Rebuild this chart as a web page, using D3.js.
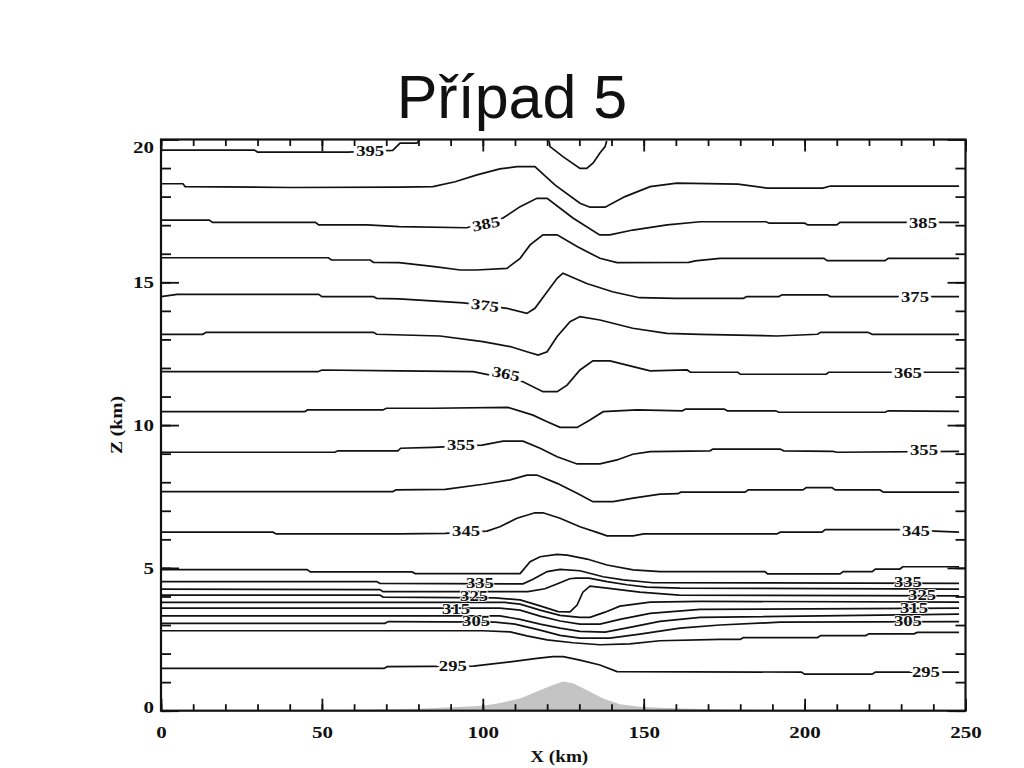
<!DOCTYPE html>
<html>
<head>
<meta charset="utf-8">
<script src="https://cdn.jsdelivr.net/npm/d3@7"></script>
<style>
  body { margin: 0; background: #fff; }
  svg { display: block; }
</style>
</head>
<body>
<div id="chart"></div>
<script>
// isentropes (K), each one a list of [x km, z km]; null = break
var c395 = [[0,19.63],[29,19.63],[30,19.56],[58,19.56],[72,19.62],[74.3,19.87],[79.5,19.87],[80.5,20.0], null,
  [120.6,19.95],[120.9,19.75],[124.9,19.40],[130.2,18.99],[132.3,18.99],[134.3,19.18],[136.4,19.53],[138,19.75],[138.5,19.95]];
var c390 = [[0,18.45],[6.8,18.45],[7.5,18.35],[40,18.32],[74.3,18.33],[84.5,18.35],[91.4,18.52],[98.2,18.76],[105.3,18.97],[110.6,19.05],[116.2,19.05],[122.4,18.41],[130.2,17.77],[133.3,17.63],[138,17.63],[144.2,18.0],[152,18.35],[160.3,18.47],[179.3,18.44],[188.3,18.30],[205.7,18.30],[208,18.37],[248,18.37]];
var c385 = [[0,17.18],[15,17.18],[16,17.10],[48,17.10],[49,17.01],[64,17.01],[74,16.95],[95,16.91],[106.3,17.25],[111.6,17.65],[116.8,17.94],[120,17.94],[128,17.25],[136.3,16.66],[139.5,16.66],[146.6,16.83],[157.3,17.01],[167.6,17.12],[188,17.12],[189,17.07],[200,17.07],[201,17.01],[210,17.01],[211,17.10],[248,17.10]];
var c380 = [[0,15.86],[52,15.86],[53,15.78],[65,15.78],[66,15.70],[74,15.69],[85,15.55],[93,15.43],[98,15.43],[107.5,15.49],[111.6,15.84],[114.7,16.31],[118.7,16.66],[123.1,16.66],[129.3,16.25],[136.4,15.84],[141.7,15.69],[164,15.70],[166,15.75],[173.7,15.84],[206,15.84],[207,15.76],[225,15.76],[226,15.84],[248,15.84]];
var c375 = [[0,14.50],[5,14.58],[49,14.58],[50,14.50],[66,14.50],[67,14.44],[74,14.42],[94,14.28],[107.5,14.09],[113.7,13.91],[116.2,14.09],[120,14.67],[123.1,15.14],[124.9,15.32],[132.3,14.96],[140.3,14.67],[148.7,14.46],[159.7,14.44],[181,14.44],[182,14.50],[192,14.50],[193,14.56],[207,14.56],[208,14.50],[248,14.50]];
var c370 = [[0,13.18],[13,13.18],[14,13.25],[66,13.25],[67,13.18],[86.7,13.12],[100,12.92],[108.5,12.75],[113.7,12.57],[117.2,12.45],[120,12.57],[123.1,13.10],[127.1,13.62],[130.2,13.80],[136.4,13.68],[146.6,13.39],[157.2,13.21],[167.5,13.18],[191.4,13.12],[204,13.18],[205,13.25],[219.7,13.25],[221,13.18],[248,13.18]];
var c365 = [[0,11.87],[48.8,11.87],[50,11.93],[74,11.90],[97,11.87],[112.5,11.52],[118.7,11.17],[123.1,11.17],[126.2,11.40],[130.2,11.93],[134.2,12.25],[139.5,12.25],[146.7,12.05],[152,11.90],[163.5,11.93],[164.5,11.85],[179.3,11.85],[180,11.78],[206.7,11.78],[207.5,11.85],[248,11.85]];
var c360 = [[0,10.47],[44.7,10.47],[45.5,10.53],[69,10.53],[70,10.59],[84.5,10.59],[107.8,10.62],[115.6,10.35],[120,10.12],[124,9.92],[129.3,9.92],[133.3,10.18],[137.4,10.47],[147.9,10.53],[162,10.50],[163,10.56],[175,10.56],[176,10.50],[191,10.50],[192,10.45],[225,10.45],[226,10.50],[248,10.48]];
var c355 = [[0,9.05],[54,9.05],[55,9.10],[73.6,9.10],[74.5,9.19],[84.5,9.22],[99.8,9.30],[106.3,9.44],[112.5,9.44],[117.8,9.19],[123.1,8.89],[129.3,8.64],[136.4,8.64],[141.7,8.78],[146.6,8.98],[152,9.07],[170.6,9.10],[171.5,9.16],[192.4,9.16],[193.5,9.10],[208.8,9.08],[210,9.05],[248,9.08]];
var c350 = [[0,7.67],[72,7.67],[73,7.73],[88.3,7.75],[100.1,7.93],[108.5,8.08],[113.7,8.25],[116.8,8.25],[123.1,7.96],[129.3,7.61],[134.2,7.32],[140.5,7.32],[146.7,7.44],[155.1,7.58],[160.7,7.60],[161.5,7.65],[181.5,7.65],[182.5,7.73],[199.5,7.73],[200.5,7.81],[208.5,7.81],[209.5,7.73],[223.4,7.73],[224.5,7.65],[248,7.65]];
var c345 = [[0,6.25],[34.8,6.25],[35.8,6.19],[74,6.19],[88.3,6.21],[101.3,6.29],[105.3,6.44],[110.6,6.74],[116.2,6.93],[118.7,6.93],[124,6.74],[130.2,6.44],[136.4,6.21],[138.6,6.12],[146.7,6.12],[150,6.19],[191.4,6.19],[192.4,6.25],[205.4,6.25],[206.4,6.34],[229,6.34],[248,6.25]];
var c340 = [[0,4.94],[45.4,4.94],[46.4,4.86],[78,4.86],[79,4.80],[111.6,4.80],[114.7,5.22],[117.8,5.39],[123.1,5.47],[126.2,5.45],[132.4,5.31],[138.6,5.10],[146.7,4.93],[155.1,4.87],[187.7,4.87],[188.5,4.79],[211,4.79],[212,4.87],[221,4.87],[222,4.96],[229.6,4.96],[230.5,5.04],[248,5.04]];
var c335 = [[0,4.52],[67,4.52],[68,4.46],[112.5,4.44],[115.6,4.60],[120,4.87],[124,4.95],[130.2,4.90],[137.4,4.69],[143.6,4.58],[152.9,4.48],[248,4.46]];
var c330 = [[0,4.26],[68,4.24],[69,4.17],[114,4.17],[119.3,4.27],[124,4.48],[127,4.62],[129,4.64],[133,4.64],[138.6,4.52],[144.8,4.41],[151,4.33],[161.3,4.29],[248,4.26]];
var c325 = [[0,4.05],[68,4.05],[69,3.98],[103.8,3.95],[111.6,3.88],[117.8,3.67],[123.4,3.47],[127.1,3.46],[129.3,3.70],[131.1,4.15],[133.3,4.36],[138.6,4.29],[148.8,4.15],[161,4.05],[248,4.02]];
var c320 = [[0,3.79],[106.9,3.79],[111.6,3.73],[117.8,3.52],[124,3.34],[130.2,3.27],[133.3,3.27],[138,3.45],[142.6,3.66],[152,3.80],[167.5,3.83],[248,3.80]];
var c315 = [[0,3.59],[105.3,3.59],[111.6,3.52],[117.8,3.31],[124,3.14],[130.2,3.03],[136.4,3.03],[142.6,3.20],[152,3.41],[167.5,3.55],[248,3.59]];
var c310 = [[0,3.32],[105.3,3.32],[111.6,3.20],[117.8,3.03],[124,2.89],[130.2,2.78],[138,2.75],[145.7,2.92],[155,3.13],[167.5,3.27],[248,3.38]];
var c305 = [[0,3.06],[69.6,3.06],[70.6,3.12],[103.8,3.10],[110,3.03],[117.8,2.82],[124,2.64],[130.2,2.54],[139.5,2.54],[148.8,2.68],[161.3,2.89],[173.7,3.00],[192.4,3.10],[248,3.12]];
var c300 = [[0,2.80],[100,2.80],[108.5,2.76],[113.7,2.62],[120,2.48],[128,2.38],[136.4,2.31],[145.7,2.34],[155,2.45],[173.7,2.50],[180,2.50],[181,2.56],[204,2.56],[205,2.63],[219,2.63],[220,2.69],[234,2.69],[235,2.74],[248,2.74]];
var c295 = [[0,1.48],[69.3,1.48],[70.3,1.54],[97,1.56],[108.5,1.71],[116.8,1.83],[121.8,1.89],[125,1.89],[130.2,1.77],[136.4,1.60],[141.7,1.37],[199,1.35],[200,1.28],[221,1.28],[222,1.35],[248,1.35]];

var levels = [295,300,305,310,315,320,325,330,335,340,345,350,355,360,365,370,375,380,385,390,395];
var isolines = [c295,c300,c305,c310,c315,c320,c325,c330,c335,c340,c345,c350,c355,c360,c365,c370,c375,c380,c385,c390,c395];

// terrain profile [x km, h km]
var terrain = [[50,0],[60,0.03],[80,0.07],[94,0.14],[100,0.17],[105,0.26],[111.6,0.43],[116.8,0.67],[121.8,0.90],[124.9,1.02],[128,0.96],[132.4,0.72],[137.4,0.43],[142.6,0.23],[148.8,0.14],[155.1,0.10],[170,0.05],[190,0.02],[200,0]];

// contour labels: value, x km, z km, tilt (deg)
var labelVals = [395,385,385,375,375,365,365,355,355,345,345,335,335,325,325,315,315,305,305,295,295];
var labelX    = [65,101,236.8,100.7,234.3,107.2,232.1,93.2,237.1,94.8,234.6,99.1,232.1,97.3,236.5,91.7,234,97.9,232.1,90.7,237.7];
var labelZ    = [19.6,17.05,17.1,14.2,14.49,11.8,11.85,9.3,9.13,6.29,6.29,4.47,4.51,4.01,4.05,3.56,3.59,3.14,3.14,1.57,1.35];
var labelTilt = [0,-12,0,8,0,12,0,0,0,0,0,0,0,0,0,0,0,0,0,0,0];

var xMajor = [0,50,100,150,200,250];
var yMajor = [0,5,10,15,20];

var width = 1024, height = 768;
var svg = d3.select("#chart").append("svg")
  .attr("width", width)
  .attr("height", height);

svg.append("rect").attr("width", width).attr("height", height).attr("fill", "#fff");

var x = d3.scaleLinear().domain([0, 250]).range([161, 965.5]);
var y = d3.scaleLinear().domain([0, 20]).range([710.7, 139.5]);

svg.append("text")
  .attr("x", 512).attr("y", 118)
  .attr("text-anchor", "middle")
  .attr("font-family", "Liberation Sans, Arial, sans-serif")
  .attr("font-size", 61)
  .attr("fill", "#111")
  .text("Případ 5");

svg.append("clipPath").attr("id", "plotclip")
  .append("rect")
  .attr("x", x(0)).attr("y", y(20))
  .attr("width", x(250) - x(0)).attr("height", y(0) - y(20));

var plot = svg.append("g").attr("clip-path", "url(#plotclip)");

var area = d3.area()
  .x(function(d) { return x(d[0]); })
  .y0(y(0))
  .y1(function(d) { return y(d[1]); });

plot.append("path")
  .datum(terrain)
  .attr("fill", "#c4c4c4")
  .attr("d", area);

var line = d3.line()
  .defined(function(d) { return d != null; })
  .x(function(d) { return x(d[0]); })
  .y(function(d) { return y(d[1]); });

plot.selectAll("path.iso")
  .data(isolines)
  .enter()
  .append("path")
  .attr("class", "iso")
  .attr("fill", "none")
  .attr("stroke", "#111")
  .attr("stroke-width", 1.7)
  .attr("d", line);

// contour labels
svg.selectAll("text.clab")
  .data(labelVals)
  .enter()
  .append("text")
  .attr("class", "clab")
  .attr("transform", function(d, i) {
    return "translate(" + x(labelX[i]) + "," + y(labelZ[i]) + ") rotate(" + labelTilt[i] + ")";
  })
  .attr("text-anchor", "middle")
  .attr("dy", "0.35em")
  .attr("font-family", "Liberation Serif, Times New Roman, serif")
  .attr("font-weight", "bold")
  .attr("font-size", 15)
  .attr("textLength", 28)
  .attr("lengthAdjust", "spacingAndGlyphs")
  .attr("fill", "#111")
  .attr("stroke", "#fff")
  .attr("stroke-width", function(d) { return (d >= 305 && d <= 335) ? 1.5 : 5; })
  .attr("paint-order", "stroke")
  .text(function(d) { return d; });

// axes
function styleAxis(g) {
  g.select(".domain").remove();
  g.selectAll(".tick line").attr("stroke", "#111").attr("stroke-width", 1.8);
  g.selectAll("text")
    .attr("font-family", "Liberation Serif, Times New Roman, serif")
    .attr("font-weight", "bold")
    .attr("font-size", 17)
    .attr("fill", "#111")
    .attr("lengthAdjust", "spacingAndGlyphs")
    .attr("textLength", function() { return this.textContent.length * 10.5; });
}

var xMinor = d3.range(0, 251, 10);
var yMinor = d3.range(0, 21, 1);

svg.append("g").attr("transform", "translate(0," + y(0) + ")")
  .call(d3.axisBottom(x).tickValues(xMinor).tickSize(-6.5).tickFormat(""))
  .call(styleAxis);
svg.append("g").attr("transform", "translate(0," + y(0) + ")")
  .call(d3.axisBottom(x).tickValues(xMajor).tickSize(-12).tickPadding(15).tickFormat(d3.format("d")))
  .call(styleAxis);

svg.append("g").attr("transform", "translate(0," + y(20) + ")")
  .call(d3.axisTop(x).tickValues(xMinor).tickSize(-6.5).tickFormat(""))
  .call(styleAxis);
svg.append("g").attr("transform", "translate(0," + y(20) + ")")
  .call(d3.axisTop(x).tickValues(xMajor).tickSize(-12).tickFormat(""))
  .call(styleAxis);

svg.append("g").attr("transform", "translate(" + x(0) + ",0)")
  .call(d3.axisLeft(y).tickValues(yMinor).tickSize(-10).tickFormat(""))
  .call(styleAxis);
var yAx = svg.append("g").attr("transform", "translate(" + x(0) + ",0)")
  .call(d3.axisLeft(y).tickValues(yMajor).tickSize(-18).tickPadding(7).tickFormat(d3.format("d")))
  .call(styleAxis);
yAx.selectAll(".tick text")
  .attr("dy", function(d) { return d === 0 ? "0.1em" : (d === 20 ? "0.77em" : "0.32em"); });

svg.append("g").attr("transform", "translate(" + x(250) + ",0)")
  .call(d3.axisRight(y).tickValues(yMinor).tickSize(-10).tickFormat(""))
  .call(styleAxis);
svg.append("g").attr("transform", "translate(" + x(250) + ",0)")
  .call(d3.axisRight(y).tickValues(yMajor).tickSize(-18).tickFormat(""))
  .call(styleAxis);

svg.append("rect")
  .attr("x", x(0)).attr("y", y(20))
  .attr("width", x(250) - x(0)).attr("height", y(0) - y(20))
  .attr("fill", "none")
  .attr("stroke", "#111")
  .attr("stroke-width", 2.2);

// axis titles
svg.append("text")
  .attr("x", (x(0) + x(250)) / 2 - 4).attr("y", 762)
  .attr("text-anchor", "middle")
  .attr("font-family", "Liberation Serif, Times New Roman, serif")
  .attr("font-weight", "bold")
  .attr("font-size", 17)
  .attr("textLength", 58)
  .attr("lengthAdjust", "spacingAndGlyphs")
  .attr("fill", "#111")
  .text("X (km)");

svg.append("text")
  .attr("transform", "translate(122," + y(10) + ") rotate(-90)")
  .attr("text-anchor", "middle")
  .attr("font-family", "Liberation Serif, Times New Roman, serif")
  .attr("font-weight", "bold")
  .attr("font-size", 17)
  .attr("textLength", 58)
  .attr("lengthAdjust", "spacingAndGlyphs")
  .attr("fill", "#111")
  .text("Z (km)");
</script>
</body>
</html>
